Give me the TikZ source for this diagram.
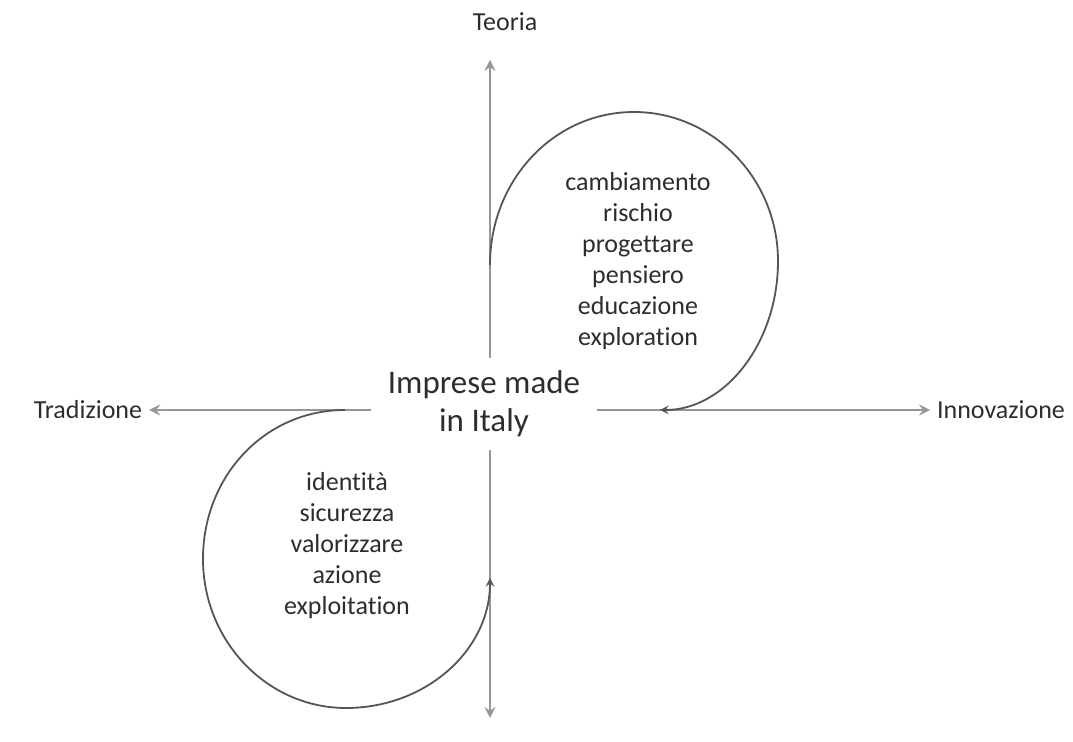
\documentclass[tikz,border=0pt]{standalone}
\usepackage{fontspec}
\setmainfont[Ligatures=NoCommon]{Carlito}
\definecolor{axisgray}{RGB}{150,150,150}
\definecolor{loopgray}{RGB}{85,85,85}
\definecolor{textgray}{RGB}{45,45,45}
\begin{document}
\begin{tikzpicture}[>=stealth, x=0.5pt, y=-0.5pt,
  axis/.style={draw=axisgray, line width=1.4pt, ->},
  spiral/.style={draw=loopgray, line width=0.9pt, ->},
  word/.style={text=textgray, align=center, font=\fontsize{13}{15.5}\selectfont}]
\useasboundingbox (0,0) rectangle (1073,742);
\coordinate (o) at (490,410);

\node[text=textgray, align=center, font=\fontsize{16.5}{19}\selectfont, inner xsep=8pt, inner ysep=6pt] (c) at (484,404) {Imprese made\\in Italy};

\node[word] (teoria) at (505,22) {Teoria};
\node[word] (trad) at (88,410) {Tradizione};
\node[word] (innov) at (1001,410) {Innovazione};
\coordinate (bottom) at (490,718);

\draw[axis] (c.north -| o) -- (o |- 0,60);
\draw[axis] (c.south -| o) -- (bottom);
\draw[axis] (c.west |- o) -- (trad.east |- o);
\draw[axis] (c.east |- o) -- (innov.west |- o);

\draw[spiral] (490,265) .. controls (490,180) and (554,112) .. (634,112)
  .. controls (714,112) and (778,180) .. (778,261)
  .. controls (778,343) and (725,410) .. (660,410);
\draw[spiral] (345,410) .. controls (265,410) and (203,476) .. (203,559)
  .. controls (203,641) and (267,708) .. (346,708)
  .. controls (426,708) and (490,650) .. (490,578);

\node[word] (up) at (638,261) {cambiamento\\rischio\\progettare\\pensiero\\educazione\\exploration};
\node[word] (down) at (347,546) {identità\\sicurezza\\valorizzare\\azione\\exploitation};
\end{tikzpicture}
\end{document}
